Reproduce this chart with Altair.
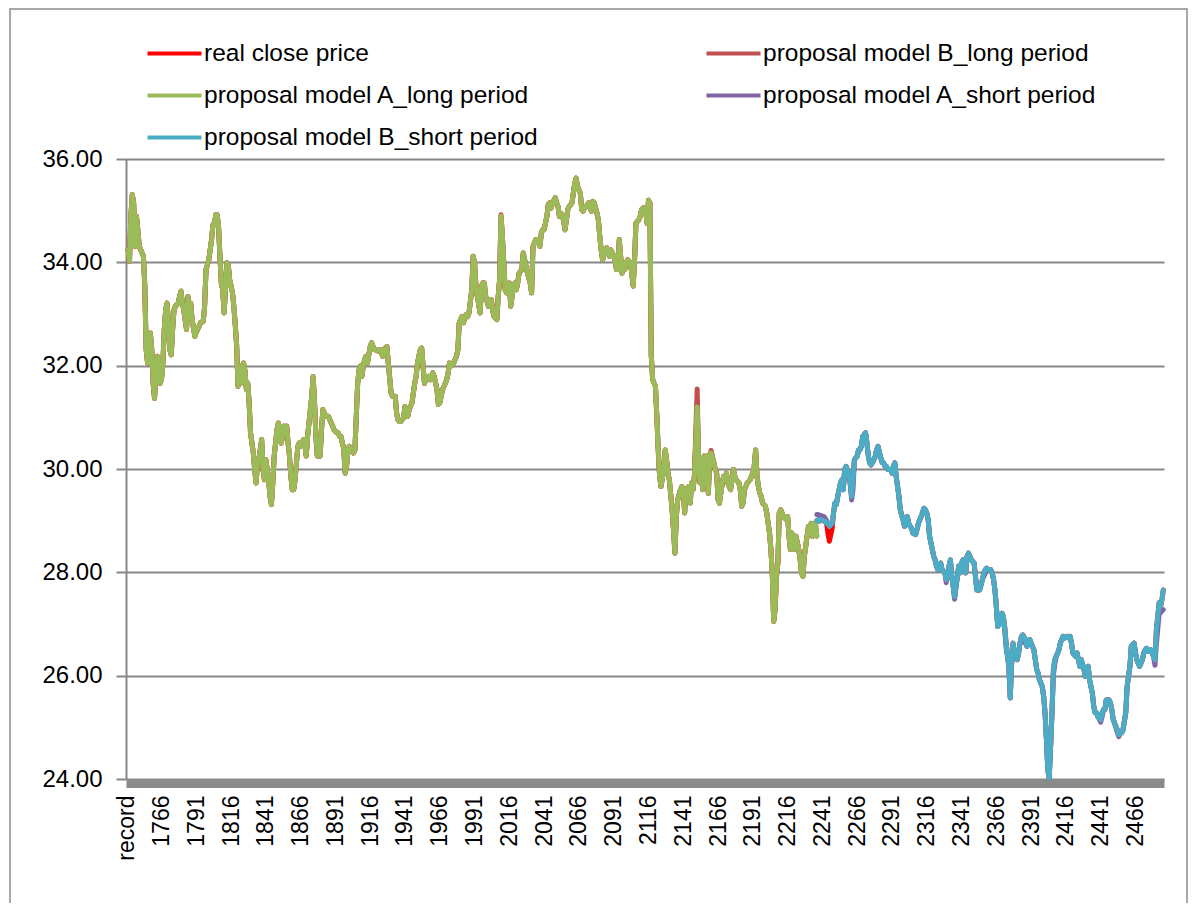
import altair as alt
import pandas as pd

# ---------------- data ----------------
records_long = [
    1742, 1743, 1744, 1745, 1746, 1747, 1748, 1749, 1750,
    1752, 1753, 1754, 1755, 1756, 1757, 1758, 1759, 1760, 1761,
    1762, 1763, 1764, 1765, 1766, 1767, 1768, 1769, 1770, 1771,
    1772, 1773, 1774, 1775, 1776, 1778, 1779, 1780, 1781, 1782,
    1784, 1785, 1786, 1787, 1788, 1790, 1791, 1792, 1793, 1794,
    1796, 1797, 1798, 1799, 1800, 1802, 1803, 1804, 1805, 1806,
    1807, 1808, 1809, 1810, 1811, 1812, 1813, 1814, 1815, 1816,
    1817, 1818, 1819, 1820, 1821, 1822, 1823, 1824, 1825, 1826,
    1827, 1828, 1829, 1830, 1832, 1833, 1834, 1835, 1836, 1837,
    1838, 1839, 1840, 1841, 1842, 1843, 1844, 1845, 1846, 1847,
    1848, 1849, 1850, 1851, 1852, 1853, 1854, 1855, 1856, 1857,
    1858, 1859, 1860, 1861, 1862, 1863, 1864, 1865, 1866, 1867,
    1868, 1869, 1870, 1871, 1872, 1874, 1875, 1876, 1877, 1878,
    1879, 1880, 1881, 1882, 1883, 1884, 1886, 1887, 1888, 1889,
    1890, 1892, 1893, 1894, 1895, 1896, 1897, 1898, 1899, 1900,
    1901, 1902, 1904, 1905, 1906, 1907, 1908, 1909, 1910, 1911,
    1912, 1913, 1914, 1916, 1917, 1918, 1919, 1920, 1922, 1923,
    1924, 1925,
    1926, 1928, 1929, 1931, 1932, 1934, 1935, 1936, 1937, 1938,
    1940, 1941, 1942, 1943, 1944, 1946, 1947, 1948, 1949, 1950,
    1952, 1953, 1954, 1955, 1956, 1958, 1959, 1960, 1961, 1962,
    1964, 1965, 1966, 1967, 1968, 1970, 1971, 1972, 1973, 1974,
    1976, 1977, 1978, 1979, 1980, 1982, 1983, 1984, 1985, 1986,
    1987, 1989, 1990, 1991, 1992, 1993, 1995, 1996, 1997, 1998,
    1999, 2001, 2002, 2003, 2004, 2005, 2007, 2008, 2009, 2010,
    2011, 2013, 2014, 2015, 2016, 2017, 2019, 2020, 2021, 2022,
    2023, 2025, 2026, 2027, 2028, 2029, 2031, 2032, 2033, 2034,
    2035, 2037, 2038, 2039, 2040, 2041, 2043, 2044, 2045, 2046,
    2047, 2049, 2050, 2051, 2052, 2053, 2055, 2056, 2057, 2058,
    2059, 2061, 2062, 2063, 2064, 2065, 2067, 2068, 2069, 2070,
    2071, 2073, 2074, 2075, 2076, 2077, 2079, 2080, 2081, 2082,
    2083, 2085, 2086, 2087, 2088, 2089, 2091, 2092, 2093, 2094,
    2095, 2097, 2098, 2099, 2100, 2101, 2103, 2104, 2105, 2106,
    2107, 2109, 2110, 2111, 2112,
    2113, 2114, 2115, 2116, 2117, 2118, 2119, 2121, 2122, 2123,
    2124, 2125, 2127, 2128, 2129, 2130, 2131, 2133, 2134, 2135,
    2136, 2137, 2139, 2140, 2141, 2142, 2143, 2145, 2146, 2147,
    2148, 2149, 2151, 2152, 2153, 2154, 2155, 2156, 2157, 2158,
    2159, 2160, 2161, 2163, 2164, 2165, 2166, 2167, 2169, 2170,
    2171, 2172, 2173, 2175, 2176, 2177, 2178, 2179, 2181, 2182,
    2183, 2184, 2185, 2187, 2188, 2189, 2190, 2191, 2192, 2193,
    2194, 2195, 2196, 2197, 2198, 2200, 2201, 2202, 2203, 2204,
    2205, 2206, 2207, 2208, 2209, 2210, 2211, 2212, 2213, 2215,
    2216, 2217, 2218, 2219, 2220, 2221, 2222, 2224, 2225, 2226,
    2227, 2228, 2230, 2231, 2232, 2233, 2234, 2236, 2237,
]

model_a_long = [
    34.25, 34.02, 34.89, 35.31, 35.15, 34.31, 34.89, 34.63, 34.31,
    34.18, 34.12, 33.55, 32.31, 32.05, 32.57, 32.63, 32.31, 31.66, 31.37,
    31.79, 32.18, 32.05, 31.66, 31.73, 32.05, 32.70, 33.08, 33.21, 32.83,
    32.31, 32.21, 32.70, 33.08, 33.15, 33.21, 33.34, 33.44, 33.21, 33.08,
    32.70, 33.34, 33.08, 33.21, 32.89, 32.57, 32.66, 32.70, 32.76, 32.83,
    32.86, 33.15, 33.86, 33.95, 34.05, 34.44, 34.73, 34.73, 34.92, 34.92,
    34.70, 34.12, 33.60, 33.47, 33.02, 33.47, 33.99, 33.95, 33.66, 33.54,
    33.41, 33.15, 32.80, 32.40, 31.60, 31.92, 31.66, 31.99, 32.05, 31.90,
    31.54, 31.66, 31.28, 30.70, 30.31, 29.99, 29.73, 30.12, 30.18, 30.37,
    30.57, 29.99, 29.79, 30.18, 29.99, 29.79, 29.47, 29.31, 29.73, 30.25,
    30.50, 30.76, 30.89, 30.70, 30.50, 30.63, 30.83, 30.70, 30.83, 30.50,
    30.25, 29.86, 29.60, 29.60, 29.79, 30.12, 30.44, 30.50, 30.44, 30.50,
    30.57, 30.50, 30.25, 30.63, 30.89, 31.41, 31.79, 31.28, 30.63, 30.25,
    30.25, 30.25, 30.76, 31.15, 31.08, 31.02, 31.02, 30.95, 30.89, 30.83,
    30.76, 30.70, 30.70, 30.63, 30.63, 30.50, 30.40, 29.92, 30.05, 30.37,
    30.44, 30.37, 30.31, 30.37, 31.02, 31.66, 31.92, 31.99, 31.79, 31.99,
    32.12, 32.18, 32.05, 32.37, 32.44, 32.37, 32.31, 32.31, 32.28, 32.31,
    32.25, 32.18,
    32.32, 32.37, 32.05, 31.47, 31.41, 31.41, 31.08, 30.95, 30.92, 30.92,
    30.99, 31.21, 31.08, 31.02, 31.15, 31.28, 31.47, 31.66, 31.79, 32.05,
    32.31, 32.34, 31.99, 31.66, 31.73, 31.79, 31.73, 31.79, 31.86, 31.79,
    31.54, 31.25, 31.28, 31.41, 31.54, 31.66, 31.73, 31.86, 32.05, 31.99,
    32.05, 32.12, 32.18, 32.31, 32.83, 32.95, 32.83, 32.92, 32.99, 32.95,
    33.02, 33.47, 34.12, 33.99, 33.54, 33.34, 33.02, 33.54, 33.60, 33.60,
    33.34, 33.15, 33.21, 33.28, 33.08, 32.95, 32.89, 33.34, 33.66, 34.89,
    34.50, 33.47, 33.41, 33.47, 33.60, 33.15, 33.54, 33.60, 33.47, 33.60,
    33.79, 33.86, 34.18, 34.05, 33.92, 33.79, 33.60, 33.41, 34.31, 34.37,
    34.44, 34.44, 34.31, 34.57, 34.63, 34.63, 34.89, 35.12, 35.15, 35.05,
    35.15, 35.25, 35.15, 35.08, 34.89, 34.95, 34.82, 34.63, 34.82, 35.02,
    35.08, 35.15, 35.34, 35.53, 35.63, 35.47, 35.34, 35.02, 34.99, 35.05,
    35.08, 35.15, 35.05, 34.99, 35.18, 35.15, 34.95, 34.82, 34.50, 34.24,
    34.05, 34.24, 34.28, 34.18, 34.12, 34.24, 34.12, 34.05, 33.86, 33.86,
    34.44, 33.79, 33.99, 33.86, 33.99, 34.05, 33.99, 33.79, 33.54, 34.05,
    34.76, 34.82, 34.89, 35.02, 35.05,
    35.05, 34.99, 34.75, 35.20, 35.15, 32.20, 31.73, 31.60, 31.02, 30.37,
    29.86, 29.66, 29.99, 30.37, 30.18, 29.92, 29.79, 29.21, 28.82, 28.37,
    29.08, 29.41, 29.60, 29.66, 29.60, 29.15, 29.60, 29.66, 29.34, 29.73,
    29.60, 29.86, 31.20, 30.18, 29.73, 30.18, 29.60, 30.25, 29.86, 30.25,
    29.53, 30.18, 30.31, 30.12, 29.99, 29.92, 29.41, 29.34, 29.73, 29.86,
    29.79, 29.92, 29.73, 29.60, 29.79, 29.99, 29.86, 29.79, 29.73, 29.60,
    29.28, 29.34, 29.60, 29.73, 29.76, 29.79, 29.86, 29.92, 30.05, 30.37,
    29.86, 29.66, 29.53, 29.47, 29.34, 29.28, 29.15, 28.95, 28.76, 28.44,
    27.95, 27.05, 27.28, 27.92, 28.18, 29.15, 29.21, 29.15, 29.08, 29.02,
    29.08, 28.70, 28.44, 28.76, 28.63, 28.44, 28.70, 28.44, 28.25, 27.99,
    27.92, 28.31, 28.70, 28.89, 28.89, 28.95, 28.70, 28.95, 28.70,
]

model_b_long = [
    34.25, 34.02, 34.89, 35.31, 35.15, 34.31, 34.89, 34.63, 34.31,
    34.18, 34.12, 33.55, 32.31, 32.05, 32.57, 32.63, 32.31, 31.66, 31.37,
    31.79, 32.18, 32.05, 31.66, 31.73, 32.05, 32.70, 33.08, 33.21, 32.83,
    32.31, 32.21, 32.70, 33.08, 33.15, 33.21, 33.34, 33.44, 33.21, 33.08,
    32.70, 33.34, 33.08, 33.21, 32.89, 32.57, 32.66, 32.70, 32.76, 32.83,
    32.86, 33.15, 33.86, 33.95, 34.05, 34.44, 34.73, 34.73, 34.92, 34.92,
    34.70, 34.12, 33.60, 33.47, 33.02, 33.47, 33.99, 33.95, 33.66, 33.54,
    33.41, 33.15, 32.80, 32.40, 31.60, 31.92, 31.66, 31.99, 32.05, 31.90,
    31.54, 31.66, 31.28, 30.70, 30.31, 29.99, 29.73, 30.12, 30.18, 30.37,
    30.57, 29.99, 29.79, 30.18, 29.99, 29.79, 29.47, 29.31, 29.73, 30.25,
    30.50, 30.76, 30.89, 30.70, 30.50, 30.63, 30.83, 30.70, 30.83, 30.50,
    30.25, 29.86, 29.60, 29.60, 29.79, 30.12, 30.44, 30.50, 30.44, 30.50,
    30.57, 30.50, 30.25, 30.63, 30.89, 31.41, 31.79, 31.28, 30.63, 30.25,
    30.25, 30.25, 30.76, 31.15, 31.08, 31.02, 31.02, 30.95, 30.89, 30.83,
    30.76, 30.70, 30.70, 30.63, 30.63, 30.50, 30.40, 29.92, 30.05, 30.37,
    30.44, 30.37, 30.31, 30.37, 31.02, 31.66, 31.92, 31.99, 31.79, 31.99,
    32.12, 32.18, 32.05, 32.37, 32.44, 32.37, 32.31, 32.31, 32.28, 32.31,
    32.25, 32.18,
    32.32, 32.37, 32.05, 31.47, 31.41, 31.41, 31.08, 30.95, 30.92, 30.92,
    30.99, 31.21, 31.08, 31.02, 31.15, 31.28, 31.47, 31.66, 31.79, 32.05,
    32.31, 32.34, 31.99, 31.66, 31.73, 31.79, 31.73, 31.79, 31.86, 31.79,
    31.54, 31.25, 31.28, 31.41, 31.54, 31.66, 31.73, 31.86, 32.05, 31.99,
    32.05, 32.12, 32.18, 32.31, 32.83, 32.95, 32.83, 32.92, 32.99, 32.95,
    33.02, 33.47, 34.12, 33.99, 33.54, 33.34, 33.02, 33.54, 33.60, 33.60,
    33.34, 33.15, 33.21, 33.28, 33.08, 32.95, 32.89, 33.34, 33.66, 34.92,
    34.50, 33.47, 33.41, 33.47, 33.60, 33.15, 33.54, 33.60, 33.47, 33.60,
    33.79, 33.86, 34.18, 34.05, 33.92, 33.79, 33.60, 33.41, 34.31, 34.37,
    34.44, 34.44, 34.31, 34.57, 34.63, 34.63, 34.89, 35.12, 35.15, 35.05,
    35.15, 35.25, 35.15, 35.08, 34.89, 34.95, 34.82, 34.63, 34.82, 35.02,
    35.08, 35.15, 35.34, 35.53, 35.63, 35.47, 35.34, 35.02, 34.99, 35.05,
    35.08, 35.15, 35.05, 34.99, 35.18, 35.15, 34.95, 34.82, 34.50, 34.24,
    34.05, 34.24, 34.28, 34.18, 34.12, 34.24, 34.12, 34.05, 33.86, 33.86,
    34.44, 33.79, 33.99, 33.86, 33.99, 34.05, 33.99, 33.79, 33.54, 34.05,
    34.76, 34.82, 34.89, 35.02, 35.05,
    35.05, 34.99, 34.75, 35.20, 35.15, 32.20, 31.73, 31.60, 31.02, 30.37,
    29.86, 29.66, 29.99, 30.37, 30.18, 29.92, 29.79, 29.21, 28.82, 28.37,
    29.08, 29.41, 29.60, 29.66, 29.60, 29.15, 29.60, 29.66, 29.34, 29.73,
    29.60, 29.86, 31.55, 30.18, 29.73, 30.18, 29.60, 30.25, 29.86, 30.25,
    29.53, 30.18, 30.36, 30.12, 29.99, 29.92, 29.41, 29.34, 29.73, 29.86,
    29.79, 29.92, 29.73, 29.60, 29.79, 29.99, 29.86, 29.79, 29.73, 29.60,
    29.28, 29.34, 29.60, 29.73, 29.76, 29.79, 29.86, 29.92, 30.05, 30.37,
    29.86, 29.66, 29.53, 29.47, 29.34, 29.28, 29.15, 28.95, 28.76, 28.44,
    27.95, 27.05, 27.28, 27.92, 28.18, 29.15, 29.21, 29.15, 29.08, 29.02,
    29.08, 28.70, 28.44, 28.76, 28.63, 28.44, 28.70, 28.44, 28.25, 27.99,
    27.92, 28.31, 28.70, 28.89, 28.89, 28.95, 28.70, 28.95, 28.70,
]

records_short = [
    2237, 2238, 2239, 2240, 2242, 2243, 2244, 2245, 2246, 2248,
    2249, 2250, 2251, 2252, 2254, 2255, 2256, 2257, 2258, 2260,
    2261, 2262, 2263, 2264, 2266, 2267, 2268, 2269, 2270, 2272,
    2273, 2274, 2275, 2276, 2278, 2279, 2280, 2281, 2282, 2284,
    2285, 2286, 2287, 2288, 2290, 2291, 2292, 2293, 2294, 2296,
    2297, 2298, 2299, 2300, 2302, 2303, 2304, 2305, 2306, 2308,
    2309, 2310, 2311, 2312, 2314, 2315, 2316, 2317, 2318, 2320,
    2321, 2322, 2323, 2324, 2326, 2327, 2328, 2329, 2330, 2332,
    2333, 2334, 2335, 2336, 2338, 2339, 2340, 2341, 2342, 2344,
    2345, 2346, 2347, 2348, 2350, 2351, 2352, 2353, 2354, 2356,
    2357, 2358, 2359, 2360, 2362, 2363, 2364, 2365, 2366, 2367,
    2369, 2370, 2371, 2372, 2373, 2375, 2376, 2377, 2378, 2379,
    2381, 2382, 2383, 2384, 2385, 2387, 2388, 2389, 2390, 2391,
    2393, 2394, 2395, 2396, 2397, 2399, 2400, 2401, 2402, 2403,
    2404, 2405, 2406, 2407, 2408, 2409, 2411, 2412, 2413, 2414,
    2415, 2417, 2418, 2419, 2420, 2421, 2423, 2424, 2425, 2426,
    2427, 2429, 2430, 2431, 2432, 2433, 2435, 2436, 2437, 2438,
    2439, 2441, 2442, 2443, 2444, 2445, 2447, 2448, 2449, 2450,
    2451, 2453, 2454, 2455, 2456, 2457, 2459, 2460, 2461, 2462,
    2463, 2465, 2466, 2467, 2468, 2469, 2471, 2472, 2473, 2474,
    2475, 2477, 2478, 2479, 2480, 2481, 2483, 2484, 2485, 2486,
]

model_b_short = [
    29.00, 29.02, 28.99, 29.02, 28.99, 28.99, 28.95, 28.95, 28.89, 28.95,
    29.15, 29.34, 29.31, 29.47, 29.73, 29.79, 29.60, 29.99, 30.05, 29.92,
    29.73, 29.47, 29.79, 30.18, 30.25, 30.37, 30.37, 30.44, 30.63, 30.70,
    30.50, 30.25, 30.12, 30.08, 30.18, 30.25, 30.37, 30.44, 30.31, 30.12,
    30.12, 30.05, 30.05, 29.99, 29.99, 29.92, 30.05, 30.12, 29.86, 29.47,
    29.21, 29.10, 29.02, 28.89, 29.08, 28.95, 28.89, 28.86, 28.76, 28.73,
    28.83, 28.95, 29.02, 29.08, 29.24, 29.21, 29.15, 29.02, 28.70, 28.44,
    28.31, 28.24, 28.12, 28.05, 28.18, 28.05, 28.02, 27.99, 27.86, 28.12,
    28.24, 27.92, 27.73, 27.53, 27.92, 28.12, 27.99, 28.18, 28.24, 27.99,
    28.31, 28.37, 28.31, 28.24, 28.18, 27.92, 27.66, 27.66, 27.66, 27.86,
    27.99, 28.05, 28.08, 28.05, 28.05, 27.99, 27.86, 27.66, 27.34, 26.95,
    27.02, 27.21, 27.15, 26.95, 26.63, 26.18, 25.57, 26.30, 26.63, 26.44,
    26.31, 26.44, 26.63, 26.76, 26.79, 26.70, 26.57, 26.63, 26.70, 26.63,
    26.50, 26.31, 26.12, 26.05, 25.92, 25.79, 25.60, 25.28, 24.76, 24.18,
    24.02, 24.63, 25.28, 26.12, 26.31, 26.37, 26.50, 26.63, 26.70, 26.76,
    26.73, 26.76, 26.73, 26.76, 26.63, 26.44, 26.37, 26.44, 26.31, 26.18,
    26.31, 26.12, 25.99, 26.12, 26.18, 25.92, 25.66, 25.41, 25.28, 25.28,
    25.21, 25.15, 25.28, 25.34, 25.34, 25.53, 25.53, 25.47, 25.34, 25.15,
    25.08, 24.95, 24.86, 24.89, 24.89, 24.95, 25.28, 25.79, 25.99, 26.18,
    26.57, 26.63, 26.44, 26.31, 26.24, 26.18, 26.31, 26.44, 26.50, 26.53,
    26.47, 26.50, 26.44, 26.37, 26.31, 26.89, 27.41, 27.34, 27.47, 27.66,
]

model_a_short = [
    29.12, 29.12, 29.10, 29.10, 29.08, 29.05, 29.00, 28.95, 28.89, 28.95,
    29.15, 29.34, 29.31, 29.47, 29.73, 29.79, 29.60, 29.99, 30.05, 29.92,
    29.70, 29.40, 29.60, 30.18, 30.25, 30.37, 30.37, 30.44, 30.63, 30.70,
    30.50, 30.25, 30.12, 30.08, 30.18, 30.25, 30.37, 30.44, 30.31, 30.12,
    30.12, 30.05, 30.05, 29.99, 29.99, 29.92, 30.05, 30.12, 29.86, 29.47,
    29.21, 29.10, 29.02, 28.89, 29.08, 28.95, 28.89, 28.86, 28.76, 28.73,
    28.83, 28.95, 29.02, 29.08, 29.24, 29.21, 29.15, 29.02, 28.70, 28.44,
    28.31, 28.24, 28.12, 28.05, 28.18, 28.05, 28.02, 27.99, 27.80, 28.12,
    28.24, 27.92, 27.73, 27.48, 27.92, 28.12, 27.99, 28.18, 28.24, 27.99,
    28.31, 28.37, 28.31, 28.24, 28.18, 27.92, 27.66, 27.66, 27.66, 27.86,
    27.92, 27.98, 28.05, 28.05, 28.05, 27.99, 27.86, 27.66, 27.34, 26.95,
    27.02, 27.21, 27.15, 26.88, 26.55, 26.18, 25.57, 26.20, 26.50, 26.38,
    26.31, 26.44, 26.63, 26.68, 26.70, 26.62, 26.57, 26.63, 26.70, 26.63,
    26.50, 26.31, 26.12, 26.05, 25.92, 25.79, 25.60, 25.28, 24.76, 24.18,
    24.02, 24.63, 25.28, 26.00, 26.22, 26.37, 26.50, 26.63, 26.70, 26.76,
    26.73, 26.76, 26.73, 26.76, 26.63, 26.44, 26.37, 26.44, 26.31, 26.18,
    26.31, 26.12, 25.99, 26.12, 26.18, 25.92, 25.66, 25.41, 25.28, 25.28,
    25.21, 25.10, 25.20, 25.34, 25.34, 25.53, 25.53, 25.47, 25.34, 25.15,
    25.08, 24.90, 24.82, 24.89, 24.89, 24.95, 25.28, 25.79, 25.99, 26.18,
    26.57, 26.63, 26.44, 26.31, 26.24, 26.18, 26.31, 26.44, 26.50, 26.53,
    26.47, 26.50, 26.44, 26.37, 26.20, 26.60, 27.20, 27.22, 27.25, 27.28,
]

# real close price: long-period records (up to 2236) followed by short-period records
records_real = records_long[:-1] + records_short

real_close_first = [
    34.25, 34.02, 34.89, 35.31, 35.15, 34.31, 34.89, 34.63, 34.31,
    34.18, 34.12, 33.55, 32.31, 32.05, 32.57, 32.63, 32.31, 31.66, 31.37,
    31.79, 32.18, 32.05, 31.66, 31.73, 32.05, 32.70, 33.08, 33.21, 32.83,
    32.31, 32.21, 32.70, 33.08, 33.15, 33.21, 33.34, 33.44, 33.21, 33.08,
    32.70, 33.34, 33.08, 33.21, 32.89, 32.57, 32.66, 32.70, 32.76, 32.83,
    32.86, 33.15, 33.86, 33.95, 34.05, 34.44, 34.73, 34.73, 34.92, 34.92,
    34.70, 34.12, 33.60, 33.47, 33.02, 33.47, 33.99, 33.95, 33.66, 33.54,
    33.41, 33.15, 32.80, 32.40, 31.60, 31.92, 31.66, 31.99, 32.05, 31.90,
    31.54, 31.66, 31.28, 30.70, 30.31, 29.99, 29.73, 30.12, 30.18, 30.37,
    30.57, 29.99, 29.79, 30.18, 29.99, 29.79, 29.47, 29.31, 29.73, 30.25,
    30.50, 30.76, 30.89, 30.70, 30.50, 30.63, 30.83, 30.70, 30.83, 30.50,
    30.25, 29.86, 29.60, 29.60, 29.79, 30.12, 30.44, 30.50, 30.44, 30.50,
    30.57, 30.50, 30.25, 30.63, 30.89, 31.41, 31.79, 31.28, 30.63, 30.25,
    30.25, 30.25, 30.76, 31.15, 31.08, 31.02, 31.02, 30.95, 30.89, 30.83,
    30.76, 30.70, 30.70, 30.63, 30.63, 30.50, 30.40, 29.92, 30.05, 30.37,
    30.44, 30.37, 30.31, 30.37, 31.02, 31.66, 31.92, 31.99, 31.79, 31.99,
    32.12, 32.18, 32.05, 32.37, 32.44, 32.37, 32.31, 32.31, 32.28, 32.31,
    32.25, 32.18,
    32.32, 32.37, 32.05, 31.47, 31.41, 31.41, 31.08, 30.95, 30.92, 30.92,
    30.99, 31.21, 31.08, 31.02, 31.15, 31.28, 31.47, 31.66, 31.79, 32.05,
    32.31, 32.34, 31.99, 31.66, 31.73, 31.79, 31.73, 31.79, 31.86, 31.79,
    31.54, 31.25, 31.28, 31.41, 31.54, 31.66, 31.73, 31.86, 32.05, 31.99,
    32.05, 32.12, 32.18, 32.31, 32.83, 32.95, 32.83, 32.92, 32.99, 32.95,
    33.02, 33.47, 34.12, 33.99, 33.54, 33.34, 33.02, 33.54, 33.60, 33.60,
    33.34, 33.15, 33.21, 33.28, 33.08, 32.95, 32.89, 33.34, 33.66, 34.89,
    34.50, 33.47, 33.41, 33.47, 33.60, 33.15, 33.54, 33.60, 33.47, 33.60,
    33.79, 33.86, 34.18, 34.05, 33.92, 33.79, 33.60, 33.41, 34.31, 34.37,
    34.44, 34.44, 34.31, 34.57, 34.63, 34.63, 34.89, 35.12, 35.15, 35.05,
    35.15, 35.25, 35.15, 35.08, 34.89, 34.95, 34.82, 34.63, 34.82, 35.02,
    35.08, 35.15, 35.34, 35.53, 35.63, 35.47, 35.34, 35.02, 34.99, 35.05,
    35.08, 35.15, 35.05, 34.99, 35.18, 35.15, 34.95, 34.82, 34.50, 34.24,
    34.05, 34.24, 34.28, 34.18, 34.12, 34.24, 34.12, 34.05, 33.86, 33.86,
    34.44, 33.79, 33.99, 33.86, 33.99, 34.05, 33.99, 33.79, 33.54, 34.05,
    34.76, 34.82, 34.89, 35.02, 35.05,
    35.05, 34.99, 34.75, 35.20, 35.15, 32.20, 31.73, 31.60, 31.02, 30.37,
    29.86, 29.66, 29.99, 30.37, 30.18, 29.92, 29.79, 29.21, 28.82, 28.37,
    29.08, 29.41, 29.60, 29.66, 29.60, 29.15, 29.60, 29.66, 29.34, 29.73,
    29.60, 29.86, 31.25, 30.18, 29.73, 30.18, 29.60, 30.25, 29.86, 30.25,
    29.53, 30.18, 30.31, 30.12, 29.99, 29.92, 29.41, 29.34, 29.73, 29.86,
    29.79, 29.92, 29.73, 29.60, 29.79, 29.99, 29.86, 29.79, 29.73, 29.60,
    29.28, 29.34, 29.60, 29.73, 29.76, 29.79, 29.86, 29.92, 30.05, 30.37,
    29.86, 29.66, 29.53, 29.47, 29.34, 29.28, 29.15, 28.95, 28.76, 28.44,
    27.95, 27.05, 27.28, 27.92, 28.18, 29.15, 29.21, 29.15, 29.08, 29.02,
    29.08, 28.70, 28.44, 28.76, 28.63, 28.44, 28.70, 28.44, 28.25, 27.99,
    27.92, 28.31, 28.70, 28.89, 28.89, 28.95, 28.70, 28.95,
]

real_close_second = [
    29.00, 29.02, 28.99, 29.02, 28.99, 28.99, 28.95, 28.75, 28.60, 28.85,
    29.15, 29.34, 29.31, 29.47, 29.73, 29.79, 29.60, 29.99, 30.05, 29.92,
    29.73, 29.47, 29.79, 30.18, 30.25, 30.37, 30.37, 30.44, 30.63, 30.70,
    30.50, 30.25, 30.12, 30.08, 30.18, 30.25, 30.37, 30.44, 30.31, 30.12,
    30.12, 30.05, 30.05, 29.99, 29.99, 29.92, 30.05, 30.12, 29.86, 29.47,
    29.21, 29.10, 29.02, 28.89, 29.08, 28.95, 28.89, 28.86, 28.76, 28.73,
    28.83, 28.95, 29.02, 29.08, 29.24, 29.21, 29.15, 29.02, 28.70, 28.44,
    28.31, 28.24, 28.12, 28.05, 28.18, 28.05, 28.02, 27.99, 27.86, 28.12,
    28.24, 27.92, 27.73, 27.53, 27.92, 28.12, 27.99, 28.18, 28.24, 27.99,
    28.31, 28.37, 28.31, 28.24, 28.18, 27.92, 27.66, 27.66, 27.66, 27.86,
    27.99, 28.05, 28.08, 28.05, 28.05, 27.99, 27.86, 27.66, 27.34, 26.95,
    27.02, 27.21, 27.15, 26.95, 26.63, 26.18, 25.57, 26.30, 26.63, 26.44,
    26.31, 26.44, 26.63, 26.76, 26.79, 26.70, 26.57, 26.63, 26.70, 26.63,
    26.50, 26.31, 26.12, 26.05, 25.92, 25.79, 25.60, 25.28, 24.76, 24.18,
    24.02, 24.63, 25.28, 26.12, 26.31, 26.37, 26.50, 26.63, 26.70, 26.76,
    26.73, 26.76, 26.73, 26.76, 26.63, 26.44, 26.37, 26.44, 26.31, 26.18,
    26.31, 26.12, 25.99, 26.12, 26.18, 25.92, 25.66, 25.41, 25.28, 25.28,
    25.21, 25.15, 25.28, 25.34, 25.34, 25.53, 25.53, 25.47, 25.34, 25.15,
    25.08, 24.95, 24.86, 24.89, 24.89, 24.95, 25.28, 25.79, 25.99, 26.18,
    26.57, 26.63, 26.44, 26.31, 26.24, 26.18, 26.31, 26.44, 26.50, 26.53,
    26.47, 26.50, 26.44, 26.37, 26.31, 26.89, 27.41, 27.34, 27.47, 27.66,
]
real_close = real_close_first + real_close_second

# drawing order (later series are drawn on top)
series_names = [
    "real close price",
    "proposal model B_long period",
    "proposal model A_long period",
    "proposal model A_short period",
    "proposal model B_short period",
]
series_colors = {
    "real close price": "#FF0000",
    "proposal model B_long period": "#C0504D",
    "proposal model A_long period": "#9BBB59",
    "proposal model A_short period": "#8064A2",
    "proposal model B_short period": "#4BACC6",
}
# legend order (legend columns are filled top to bottom)
legend_order = [
    "real close price",
    "proposal model A_long period",
    "proposal model B_short period",
    "proposal model B_long period",
    "proposal model A_short period",
]

y_tick_values = [24, 26, 28, 30, 32, 34, 36]
x_tick_values = [1741, 1766, 1791, 1816, 1841, 1866, 1891, 1916, 1941, 1966,
                 1991, 2016, 2041, 2066, 2091, 2116, 2141, 2166, 2191, 2216,
                 2241, 2266, 2291, 2316, 2341, 2366, 2391, 2416, 2441, 2466]
first_tick_label = "record"

assert len(records_long) == len(model_a_long) == len(model_b_long)
assert len(records_short) == len(model_a_short) == len(model_b_short)
assert len(records_real) == len(real_close)

# ---------------- build table ----------------
parts = [
    (series_names[0], records_real, real_close),
    (series_names[1], records_long, model_b_long),
    (series_names[2], records_long, model_a_long),
    (series_names[3], records_short, model_a_short),
    (series_names[4], records_short, model_b_short),
]
df = pd.concat(
    [pd.DataFrame({"record": r, "value": v, "series": n}) for n, r, v in parts],
    ignore_index=True,
)

GRID = "#878787"
FONT = "Liberation Sans"

x_enc = alt.X(
    "record:Q",
    scale=alt.Scale(domain=[1740.5, 2486.5], nice=False, zero=False),
    axis=alt.Axis(
        values=x_tick_values,
        format="d",
        labelExpr=f"datum.value == {x_tick_values[0]} ? '{first_tick_label}' : datum.label",
        labelAngle=270,
        labelFontSize=23,
        labelPadding=12,
        labelOverlap=False,
        labelFlush=False,
        grid=False,
        ticks=False,
        domainColor="#8a8a8a",
        domainWidth=9,
        offset=4,
        title=None,
    ),
)
y_enc = alt.Y(
    "value:Q",
    scale=alt.Scale(domain=[24, 36], nice=False, zero=False),
    axis=alt.Axis(
        values=y_tick_values,
        format=".2f",
        labelFontSize=24,
        labelPadding=14,
        labelOverlap=False,
        labelFlush=False,
        grid=True,
        gridColor=GRID,
        gridWidth=2,
        domainColor=GRID,
        domainWidth=2,
        tickColor=GRID,
        tickWidth=2,
        tickSize=10,
        title=None,
    ),
)
color_enc = alt.Color(
    "series:N",
    scale=alt.Scale(domain=legend_order, range=[series_colors[n] for n in legend_order]),
    legend=alt.Legend(
        title=None,
        orient="none",
        legendX=20,
        legendY=-121,
        columns=2,
        columnPadding=160,
        rowPadding=15,
        symbolType="M-2,0H2",
        symbolSize=729,
        symbolStrokeWidth=4,
        symbolOffset=13,
        labelOffset=14,
        labelFontSize=24.5,
        labelFont=FONT,
        labelColor="black",
        labelLimit=0,
    ),
)

layers = []
for name in series_names:
    layers.append(
        alt.Chart(df)
        .transform_filter(alt.datum.series == name)
        .mark_line(strokeWidth=5, strokeJoin="round", strokeCap="round")
        .encode(x=x_enc, y=y_enc, color=color_enc)
    )

frame = (
    alt.Chart(pd.DataFrame({"frame": [0]}))
    .mark_rect(filled=False, stroke="#8c8c8c", strokeWidth=1.5)
    .encode(x=alt.value(-116), x2=alt.value(1061), y=alt.value(-150), y2=alt.value(790))
)

chart = (
    alt.layer(frame, *layers)
    .properties(
        width=1038,
        height=620,
        autosize=alt.AutoSizeParams(type="none"),
        padding={"left": 118, "top": 151, "right": 25, "bottom": 124},
        background="white",
    )
    .configure(font=FONT)
    .configure_axis(labelColor="black", labelFont=FONT)
    .configure_view(stroke=None)
)

chart.save("out.html", embed_options={"renderer": "svg", "actions": False})
